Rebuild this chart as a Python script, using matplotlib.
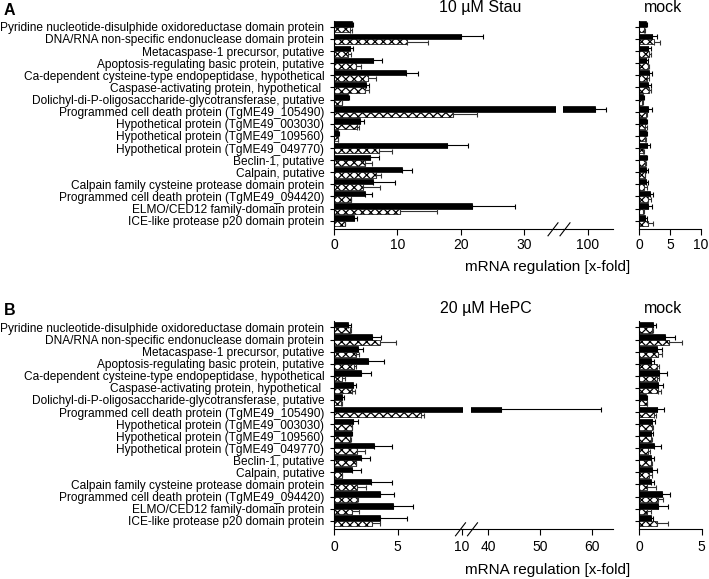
import matplotlib
matplotlib.use("Agg")
import matplotlib.pyplot as plt
import numpy as np

plt.rcParams['font.family'] = ['Liberation Sans', 'DejaVu Sans']
plt.rcParams['hatch.linewidth'] = 0.9

genes = ["Pyridine nucleotide-disulphide oxidoreductase domain protein",
         "DNA/RNA non-specific endonuclease domain protein",
         "Metacaspase-1 precursor, putative",
         "Apoptosis-regulating basic protein, putative",
         "Ca-dependent cysteine-type endopeptidase, hypothetical",
         "Caspase-activating protein, hypothetical ",
         "Dolichyl-di-P-oligosaccharide-glycotransferase, putative",
         "Programmed cell death protein (TgME49_105490)",
         "Hypothetical protein (TgME49_003030)",
         "Hypothetical protein (TgME49_109560)",
         "Hypothetical protein (TgME49_049770)",
         "Beclin-1, putative",
         "Calpain, putative",
         "Calpain family cysteine protease domain protein",
         "Programmed cell death protein (TgME49_094420)",
         "ELMO/CED12 family-domain protein",
         "ICE-like protease p20 domain protein"]

# panel A, 10 uM Stau (solid / hatched) and upper error
stau_solid = [2.8, 20.0, 2.5, 6.1, 11.3, 5.1, 2.2, 101.1, 4.05, 0.68, 17.8, 5.7, 10.7, 6.1, 4.9, 21.8, 3.2]
stau_solid_err = [0.2, 3.6, 0.55, 1.5, 2.0, 0.5, 0.2, 1.8, 0.65, 0.05, 3.4, 1.35, 1.7, 3.5, 1.05, 6.8, 0.45]
stau_hatch = [2.5, 11.6, 2.2, 3.4, 5.4, 4.9, 1.2, 18.8, 3.7, 0.63, 7.05, 4.85, 6.6, 4.6, 2.7, 10.5, 1.7]
stau_hatch_err = [0.4, 3.3, 0.5, 0.9, 1.2, 0.7, 0.1, 3.8, 0.2, 0.05, 2.05, 1.15, 0.8, 2.7, 0.05, 5.7, 0.1]
mockA_solid = [1.03, 2.1, 1.46, 1.08, 1.57, 1.46, 0.65, 1.46, 1.03, 1.03, 1.2, 1.03, 1.08, 1.03, 1.73, 1.46, 0.92]
mockA_solid_err = [0.27, 0.7, 0.38, 0.38, 0.53, 0.38, 0.11, 0.59, 0.27, 0.17, 0.5, 0.27, 0.38, 0.32, 0.43, 0.54, 0.28]
mockA_hatch = [0.76, 2.4, 1.57, 1.35, 1.3, 1.57, 0.5, 1.03, 0.97, 0.97, 0.65, 0.92, 0.86, 0.76, 1.46, 0.65, 1.35]
mockA_hatch_err = [0.15, 0.95, 0.33, 0.25, 0.27, 0.33, 0.05, 0.27, 0.23, 0.1, 0.15, 0.18, 0.14, 0.44, 0.38, 0.15, 0.81]

# panel B, 20 uM HePC
hepc_solid = [1.12, 2.95, 1.86, 2.69, 2.09, 1.46, 0.6, 42.4, 1.52, 1.36, 3.14, 2.12, 1.44, 2.93, 3.58, 4.63, 3.6]
hepc_solid_err = [0.18, 0.75, 0.44, 1.26, 0.84, 0.29, 0.18, 19.2, 0.38, 0.05, 1.38, 0.73, 0.65, 1.59, 1.15, 1.59, 2.1]
hepc_hatch = [1.25, 3.58, 1.75, 1.57, 0.65, 1.44, 0.57, 6.8, 1.39, 1.28, 1.83, 1.7, 0.6, 1.83, 1.8, 1.44, 2.95]
hepc_hatch_err = [0.05, 1.26, 0.21, 0.18, 0.25, 0.21, 0.08, 0.25, 0.05, 0.05, 0.6, 0.05, 0.05, 0.71, 0.06, 0.49, 0.63]
mockB_solid = [1.07, 2.06, 1.44, 0.94, 1.6, 1.47, 0.53, 1.44, 0.99, 0.94, 1.18, 0.94, 1.02, 0.91, 1.79, 1.52, 0.91]
mockB_solid_err = [0.27, 0.84, 0.4, 0.26, 0.6, 0.46, 0.11, 0.56, 0.27, 0.13, 0.56, 0.26, 0.37, 0.29, 0.67, 0.75, 0.16]
mockB_hatch = [1.04, 2.4, 1.52, 1.39, 1.39, 1.52, 0.59, 1.18, 1.04, 0.91, 0.72, 0.91, 0.8, 0.64, 1.52, 0.59, 1.39]
mockB_hatch_err = [0.05, 1.0, 0.28, 0.21, 0.21, 0.22, 0.05, 0.16, 0.08, 0.08, 0.14, 0.13, 0.19, 0.7, 0.35, 0.35, 0.94]

W, H = 709.0, 579.0
fig = plt.figure(figsize=(W / 100, H / 100), dpi=100)

y = np.arange(len(genes))
bh = 0.45


def px_axes(x0, x1, ytop, ybot):
    return fig.add_axes([x0 / W, 1 - ybot / H, (x1 - x0) / W, (ybot - ytop) / H])


def px_line(xs, ys, lw=0.8):
    fig.add_artist(plt.Line2D([v / W for v in xs], [1 - v / H for v in ys], color="black", lw=lw))


def draw_bars(ax, solid, serr, hatch, herr, xpad):
    n = len(solid)
    ax.barh(y - bh / 2, solid, height=bh, color="black", edgecolor="black", lw=0.5,
            xerr=[[0] * n, serr], error_kw=dict(ecolor="black", elinewidth=0.8, capsize=1.8, capthick=0.8))
    ax.barh(y + bh / 2, hatch, height=bh, color="white", edgecolor="black", lw=0.5, hatch="xxxx",
            xerr=[[0] * n, herr], error_kw=dict(ecolor="#333333", elinewidth=0.8, capsize=1.8, capthick=0.8))
    ax.set_ylim(len(genes) - 0.29, -0.5)
    for s in ["top", "right"]:
        ax.spines[s].set_visible(False)
    ax.tick_params(axis="x", direction="out", length=4, labelsize=10, pad=xpad)
    ax.tick_params(axis="y", direction="out", length=3, pad=4)


panels = [
    ("A", 20.8, 229.3, "10 µM Stau", 480, (334, 556, 0, 35.07, [0, 10, 20, 30]),
     (563, 612.7, 96.05, 103.9, [100]), (639.3, 701, 10, [0, 5, 10]),
     stau_solid, stau_solid_err, stau_hatch, stau_hatch_err,
     mockA_solid, mockA_solid_err, mockA_hatch, mockA_hatch_err, 559, 37.5, 2.5),
    ("B", 321.4, 529.3, "20 µM HePC", 486, (334, 462.7, 0, 10.09, [0, 5, 10]),
     (471.3, 612.7, 36.73, 63.9, [40, 50, 60]), (639.3, 701.7, 5, [0, 5]),
     hepc_solid, hepc_solid_err, hepc_hatch, hepc_hatch_err,
     mockB_solid, mockB_solid_err, mockB_hatch, mockB_hatch_err, 466.5, 41, 4),
]

for (letter, ytop, ybot, title, tx, left, right, mock, s, se, h, he,
     ms, mse, mh, mhe, brk, xl_off, xpad) in panels:
    ax1 = px_axes(left[0], left[1], ytop, ybot)
    draw_bars(ax1, s, se, h, he, xpad)
    ax1.set_xlim(left[2], left[3])
    ax1.set_xticks(left[4])
    ax1.set_yticks(y)
    ax1.set_yticklabels(genes, fontsize=8.55)

    ax2 = px_axes(right[0], right[1], ytop, ybot)
    draw_bars(ax2, s, se, h, he, xpad)
    ax2.set_xlim(right[2], right[3])
    ax2.set_xticks(right[4])
    ax2.spines["left"].set_visible(False)
    ax2.set_yticks([])

    ax3 = px_axes(mock[0], mock[1], ytop, ybot)
    draw_bars(ax3, ms, mse, mh, mhe, xpad)
    ax3.set_xlim(0, mock[2])
    ax3.set_xticks(mock[3])
    ax3.set_yticks(y)
    ax3.set_yticklabels([])

    # axis line continues through the break, with // marks
    px_line([left[1], right[0]], [ybot, ybot])
    for dx in [-6, 6]:
        px_line([brk + dx - 5, brk + dx + 5], [ybot + 6.5, ybot - 6.5])

    fig.text(tx / W, 1 - (ytop - 13) / H, title, fontsize=11.5, ha="center", va="center")
    fig.text(663 / W, 1 - (ytop - 13) / H, "mock", fontsize=11.5, ha="center", va="center")
    fig.text(548 / W, 1 - (ybot + xl_off) / H, "mRNA regulation [x-fold]", fontsize=11, ha="center", va="center")
    fig.text(4 / W, 1 - (ytop - 10.5) / H, letter, fontsize=11.5, fontweight="bold", ha="left", va="center")

fig.savefig("out.png", dpi=100)
